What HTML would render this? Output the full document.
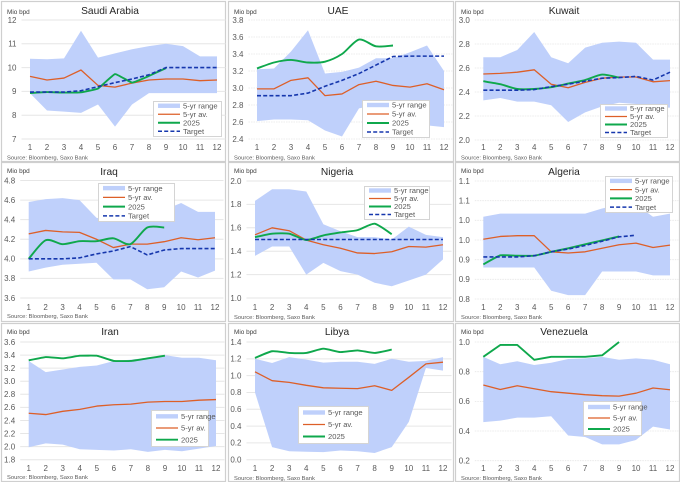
<!DOCTYPE html>
<html lang="en">
<head>
<meta charset="utf-8">
<title>OPEC+ production by country</title>
<style>
html,body{margin:0;padding:0;background:#fff;width:680px;height:482px;overflow:hidden}
svg{display:block;font-family:"Liberation Sans",sans-serif}
</style>
</head>
<body>
<svg id="chart" width="680" height="482" viewBox="0 0 680 482" xmlns="http://www.w3.org/2000/svg"></svg>
<script>
const months = [1,2,3,4,5,6,7,8,9,10,11,12];

const saudiTicks = [7,8,9,10,11,12];
const saudiLabels = ["7","8","9","10","11","12"];
const saudiHigh = [10.37,10.35,10.39,11.55,10.42,10.6,10.77,10.9,11.0,10.9,10.47,10.47];
const saudiLow = [8.92,8.2,8.15,8.1,8.45,7.52,8.45,8.93,8.93,8.93,8.93,8.93];
const saudiAvg = [9.63,9.48,9.56,9.9,9.25,9.18,9.35,9.48,9.52,9.52,9.45,9.48];
const saudi2025 = [8.93,8.97,8.95,8.96,9.12,9.73,9.37,9.65,9.98];
const saudiTarget = [8.97,8.97,8.97,9.03,9.2,9.37,9.52,9.7,10,10,10,10];

const uaeTicks = [2.4,2.6,2.8,3.0,3.2,3.4,3.6,3.8];
const uaeLabels = ["2.4","2.6","2.8","3.0","3.2","3.4","3.6","3.8"];
const uaeHigh = [3.22,3.23,3.43,3.68,3.17,3.19,3.24,3.35,3.35,3.42,3.5,3.2];
const uaeLow = [2.61,2.63,2.63,2.62,2.5,2.43,2.76,2.8,2.8,2.6,2.56,2.54];
const uaeAvg = [2.99,2.99,3.09,3.12,2.91,2.93,3.04,3.08,3.03,3.01,3.05,2.98];
const uae2025 = [3.23,3.3,3.33,3.3,3.31,3.4,3.57,3.49,3.5];
const uaeTarget = [2.91,2.91,2.91,2.94,3.02,3.09,3.17,3.27,3.37,3.375,3.375,3.375];

const kuwaitTicks = [2.0,2.2,2.4,2.6,2.8,3.0];
const kuwaitLabels = ["2.0","2.2","2.4","2.6","2.8","3.0"];
const kuwaitHigh = [2.69,2.69,2.75,2.9,2.69,2.64,2.77,2.81,2.82,2.81,2.67,2.67];
const kuwaitLow = [2.33,2.35,2.32,2.32,2.29,2.15,2.23,2.28,2.31,2.3,2.27,2.27];
const kuwaitAvg = [2.55,2.555,2.565,2.585,2.465,2.435,2.48,2.515,2.525,2.525,2.485,2.495];
const kuwait2025 = [2.49,2.465,2.425,2.425,2.44,2.47,2.5,2.545,2.52];
const kuwaitTarget = [2.415,2.415,2.415,2.42,2.445,2.465,2.49,2.515,2.52,2.53,2.5,2.565];

const iraqTicks = [3.6,3.8,4.0,4.2,4.4,4.6,4.8];
const iraqLabels = ["3.6","3.8","4.0","4.2","4.4","4.6","4.8"];
const iraqHigh = [4.58,4.61,4.62,4.6,4.42,4.38,4.4,4.45,4.5,4.57,4.48,4.48];
const iraqLow = [3.87,3.91,3.94,3.95,3.96,3.79,3.79,3.69,3.71,3.87,3.81,3.88];
const iraqAvg = [4.255,4.29,4.275,4.27,4.2,4.115,4.15,4.15,4.175,4.215,4.195,4.215];
const iraq2025 = [4.0,4.19,4.15,4.18,4.18,4.21,4.15,4.32,4.32];
const iraqTarget = [4,4,4,4.01,4.05,4.08,4.125,4.04,4.09,4.105,4.105,4.105];

const nigeriaTicks = [1.0,1.2,1.4,1.6,1.8,2.0];
const nigeriaLabels = ["1.0","1.2","1.4","1.6","1.8","2.0"];
const nigeriaHigh = [1.83,1.93,1.93,1.91,1.63,1.57,1.52,1.52,1.5,1.61,1.54,1.52];
const nigeriaLow = [1.36,1.44,1.44,1.2,1.3,1.23,1.2,1.13,1.1,1.15,1.2,1.33];
const nigeriaAvg = [1.54,1.6,1.575,1.495,1.455,1.425,1.385,1.38,1.395,1.44,1.435,1.455];
const nigeria2025 = [1.52,1.55,1.55,1.495,1.535,1.56,1.58,1.635,1.545];
const nigeriaTarget = [1.5,1.5,1.5,1.5,1.5,1.5,1.5,1.5,1.5,1.5,1.5,1.5];

const algeriaTicks = [0.8,0.85,0.9,0.95,1.0,1.05,1.1];
const algeriaLabels = ["0.8","0.9","0.9","1.0","1.0","1.1","1.1"];
const algeriaHigh = [1.009,1.017,1.017,1.017,1.017,1.017,1.017,1.03,1.04,1.04,1.009,1.017];
const algeriaLow = [0.88,0.88,0.88,0.88,0.821,0.81,0.81,0.87,0.87,0.87,0.86,0.86];
const algeriaAvg = [0.952,0.959,0.961,0.961,0.92,0.917,0.92,0.929,0.938,0.942,0.931,0.937];
const algeria2025 = [0.888,0.911,0.91,0.91,0.92,0.929,0.939,0.949,0.959];
const algeriaTarget = [0.907,0.907,0.907,0.91,0.92,0.927,0.936,0.947,0.958,0.962];

const iranTicks = [1.8,2.0,2.2,2.4,2.6,2.8,3.0,3.2,3.4,3.6];
const iranLabels = ["1.8","2.0","2.2","2.4","2.6","2.8","3.0","3.2","3.4","3.6"];
const iranHigh = [3.31,3.14,3.18,3.22,3.24,3.31,3.33,3.36,3.4,3.36,3.36,3.32];
const iranLow = [1.99,2.05,2.03,1.96,1.95,1.94,1.96,1.92,1.95,1.93,1.97,2.01];
const iranAvg = [2.51,2.49,2.54,2.57,2.62,2.64,2.65,2.68,2.69,2.69,2.71,2.72];
const iran2025 = [3.32,3.37,3.35,3.39,3.39,3.31,3.31,3.35,3.39];

const libyaTicks = [0,0.2,0.4,0.6,0.8,1.0,1.2,1.4];
const libyaLabels = ["0.0","0.2","0.4","0.6","0.8","1.0","1.2","1.4"];
const libyaHigh = [1.2,1.15,1.22,1.19,1.155,1.165,1.165,1.14,1.2,1.165,1.175,1.22];
const libyaLow = [0.8,0.15,0.1,0.095,0.09,0.11,0.1,0.08,0.15,0.45,1.09,1.06];
const libyaAvg = [1.045,0.94,0.92,0.885,0.855,0.85,0.845,0.88,0.825,0.98,1.14,1.16];
const libya2025 = [1.21,1.29,1.27,1.27,1.32,1.28,1.3,1.27,1.31];

const venezuelaTicks = [0.2,0.4,0.6,0.8,1.0];
const venezuelaLabels = ["0.2","0.4","0.6","0.8","1.0"];
const venezuelaHigh = [0.9,0.85,0.87,0.845,0.86,0.885,0.89,0.9,0.88,0.89,0.88,0.85];
const venezuelaLow = [0.46,0.47,0.49,0.49,0.5,0.37,0.36,0.31,0.31,0.34,0.43,0.41];
const venezuelaAvg = [0.71,0.68,0.705,0.685,0.665,0.655,0.645,0.638,0.635,0.655,0.69,0.678];
const venezuela2025 = [0.9,0.98,0.98,0.88,0.9,0.9,0.9,0.91,1.0];

const legendNames = ["5-yr range","5-yr av.","2025","Target"];

const COLORS = {range:"#bfd0fb", avg:"#dd5f28", y25:"#0fa84c", target:"#1637ad", grid:"#e6e6e6", text:"#595959", border:"#cfcfcf"};

const panels = [
  {key:"saudi-arabia", title:"Saudi Arabia", smooth:0.05, box:[1,1,224,160], x1:30, x12:217, yTop:20, yBot:139, tx:110, tb:14, mx:7, mb:14, sb:159.5, xb:150, dotted:false, ticks:saudiTicks, labels:saudiLabels, high:saudiHigh, low:saudiLow, avg:saudiAvg, cur:saudi2025, target:saudiTarget, leg:[153,101,68,35]},
  {key:"uae", title:"UAE", smooth:0.14, box:[228,1,225,160], x1:257, x12:444, yTop:20, yBot:139, tx:338, tb:14, mx:234, mb:14, sb:159.5, xb:150, dotted:true, ticks:uaeTicks, labels:uaeLabels, high:uaeHigh, low:uaeLow, avg:uaeAvg, cur:uae2025, target:uaeTarget, leg:[362,100,67,37]},
  {key:"kuwait", title:"Kuwait", smooth:0.12, box:[455,1,224,160], x1:483.3, x12:670, yTop:20, yBot:140, tx:564, tb:14, mx:461, mb:14, sb:159.5, xb:150, dotted:true, ticks:kuwaitTicks, labels:kuwaitLabels, high:kuwaitHigh, low:kuwaitLow, avg:kuwaitAvg, cur:kuwait2025, target:kuwaitTarget, leg:[600,104,67,33]},
  {key:"iraq", title:"Iraq", smooth:0.14, box:[1,162,224,159], x1:28.7, x12:215, yTop:180.5, yBot:298, tx:109, tb:175, mx:7, mb:173, sb:318, xb:310, dotted:false, ticks:iraqTicks, labels:iraqLabels, high:iraqHigh, low:iraqLow, avg:iraqAvg, cur:iraq2025, target:iraqTarget, leg:[98,183,76,38]},
  {key:"nigeria", title:"Nigeria", smooth:0.1, box:[228,162,225,159], x1:255, x12:443, yTop:181, yBot:298, tx:337, tb:175, mx:234, mb:173, sb:319, xb:310, dotted:false, ticks:nigeriaTicks, labels:nigeriaLabels, high:nigeriaHigh, low:nigeriaLow, avg:nigeriaAvg, cur:nigeria2025, target:nigeriaTarget, leg:[364,186,65,33]},
  {key:"algeria", title:"Algeria", smooth:0.06, box:[455,162,224,159], x1:483.3, x12:670, yTop:181, yBot:299, tx:564, tb:175, mx:461, mb:173, sb:319, xb:310, dotted:true, ticks:algeriaTicks, labels:algeriaLabels, high:algeriaHigh, low:algeriaLow, avg:algeriaAvg, cur:algeria2025, target:algeriaTarget, leg:[605,176,67,36]},
  {key:"iran", title:"Iran", smooth:0.04, box:[1,323,224,158], x1:28.7, x12:216, yTop:342, yBot:459.7, tx:110, tb:335, mx:7, mb:334, sb:479, xb:471, dotted:false, ticks:iranTicks, labels:iranLabels, high:iranHigh, low:iranLow, avg:iranAvg, cur:iran2025, target:null, leg:[151,410,57,36]},
  {key:"libya", title:"Libya", smooth:0.1, box:[228,323,225,158], x1:255, x12:443, yTop:342, yBot:459.7, tx:337, tb:335, mx:234, mb:334, sb:480, xb:471, dotted:false, ticks:libyaTicks, labels:libyaLabels, high:libyaHigh, low:libyaLow, avg:libyaAvg, cur:libya2025, target:null, leg:[298,406,70,37]},
  {key:"venezuela", title:"Venezuela", smooth:0, box:[455,323,224,158], x1:483.3, x12:670, yTop:342, yBot:460.7, tx:564, tb:335, mx:461, mb:334, sb:480, xb:471, dotted:true, ticks:venezuelaTicks, labels:venezuelaLabels, high:venezuelaHigh, low:venezuelaLow, avg:venezuelaAvg, cur:venezuela2025, target:null, leg:[583,401,58,34]}
];

const NS = "http://www.w3.org/2000/svg";
const root = document.getElementById("chart");

function make(tag, parent, attrs, content) {
  const el = document.createElementNS(NS, tag);
  for (const k in attrs) el.setAttribute(k, attrs[k]);
  if (content !== undefined) el.textContent = content;
  parent.appendChild(el);
  return el;
}

function linePath(pts) {
  return pts.map((p, i) => (i ? "L" : "M") + p[0].toFixed(2) + " " + p[1].toFixed(2)).join(" ");
}

function smoothPath(pts, k) {
  let d = "M" + pts[0][0].toFixed(2) + " " + pts[0][1].toFixed(2);
  for (let i = 0; i < pts.length - 1; i++) {
    const p0 = pts[Math.max(i - 1, 0)], p1 = pts[i], p2 = pts[i + 1], p3 = pts[Math.min(i + 2, pts.length - 1)];
    d += " C" + (p1[0] + (p2[0] - p0[0]) * k).toFixed(2) + " " + (p1[1] + (p2[1] - p0[1]) * k).toFixed(2) +
         " " + (p2[0] - (p3[0] - p1[0]) * k).toFixed(2) + " " + (p2[1] - (p3[1] - p1[1]) * k).toFixed(2) +
         " " + p2[0].toFixed(2) + " " + p2[1].toFixed(2);
  }
  return d;
}

panels.forEach(function (p) {
  const yMin = p.ticks[0], yMax = p.ticks[p.ticks.length - 1];
  const xScale = m => p.x1 + (m - 1) * (p.x12 - p.x1) / 11;
  const yScale = v => p.yBot - (v - yMin) * (p.yBot - p.yTop) / (yMax - yMin);
  const toPts = arr => arr.map((v, i) => [xScale(months[i]), yScale(v)]);
  const half = (p.x12 - p.x1) / 22;

  const g = make("g", root, {});
  
  

  const frame = make("rect", g, {x:p.box[0] + 0.5, y:p.box[1] + 0.5, width:p.box[2], height:p.box[3], fill:"#fff", stroke:COLORS.border, "stroke-width":1.2});
  
  

  const title = make("text", g, {x:p.tx, y:p.tb, "text-anchor":"middle", "font-size":10.2, fill:"#262626"}, p.title);
  
  

  const unit = make("text", g, {x:p.mx, y:p.mb, "font-size":6.4, fill:"#404040"}, "Mio bpd");
  
  

  const source = make("text", g, {x:p.mx, y:p.sb, "font-size":5.8, fill:"#595959"}, "Source: Bloomberg, Saxo Bank");
  
  

  p.ticks.forEach(function (t, i) {
    const yy = yScale(t);
    const gl = make("line", g, {x1:p.x1 - half, x2:p.x12 + half, y1:yy, y2:yy, stroke:COLORS.grid, "stroke-width":p.dotted ? 0.8 : 1});
    if (p.dotted) gl.setAttribute("stroke-dasharray", "1.5 1");
    
    
    const tl = make("text", g, {x:p.x1 - half - 5, y:yy + 2.8, "text-anchor":"end", "font-size":8, fill:COLORS.text}, p.labels[i]);
    
    
  });

  months.forEach(function (m) {
    const tl = make("text", g, {x:xScale(m), y:p.xb, "text-anchor":"middle", "font-size":8, fill:COLORS.text}, String(m));
    
    
  });

  const hi = toPts(p.high), lo = toPts(p.low).reverse();
  const area = make("polygon", g, {points:hi.concat(lo).map(q => q[0].toFixed(2) + "," + q[1].toFixed(2)).join(" "), fill:COLORS.range});
  
  

  const avg = make("path", g, {d:linePath(toPts(p.avg)), fill:"none", stroke:COLORS.avg, "stroke-width":1.3, "stroke-linejoin":"round"});
  
  

  const cur = make("path", g, {d:smoothPath(toPts(p.cur), p.smooth), fill:"none", stroke:COLORS.y25, "stroke-width":1.9, "stroke-linejoin":"round"});
  
  

  if (p.target) {
    const tg = make("path", g, {d:linePath(toPts(p.target)), fill:"none", stroke:COLORS.target, "stroke-width":1.6, "stroke-dasharray":"4 2.2"});
    
    
  }

  const lg = make("g", g, {});
  
  
  const L = p.leg;
  const lbg = make("rect", lg, {x:L[0] + 0.5, y:L[1] + 0.5, width:L[2], height:L[3], fill:"#fff", stroke:"#d4d4d4", "stroke-width":1});
  
  
  const n = p.target ? 4 : 3;
  const rowH = (L[3] - 1) / n;
  const swW = 22, tx = L[0] + 30;
  for (let i = 0; i < n; i++) {
    const cy = L[1] + 0.5 + rowH * (i + 0.5);
    const sx = L[0] + 5;
    let sw;
    if (i === 0) {
      sw = make("rect", lg, {x:sx, y:cy - 2.2, width:swW, height:4.4, fill:COLORS.range});
    } else if (i === 1) {
      sw = make("line", lg, {x1:sx, x2:sx + swW, y1:cy, y2:cy, stroke:COLORS.avg, "stroke-width":1.3});
    } else if (i === 2) {
      sw = make("line", lg, {x1:sx, x2:sx + swW, y1:cy, y2:cy, stroke:COLORS.y25, "stroke-width":1.9});
    } else {
      sw = make("line", lg, {x1:sx, x2:sx + swW, y1:cy, y2:cy, stroke:COLORS.target, "stroke-width":1.6, "stroke-dasharray":"4 2.2"});
    }
    
    
    const lt = make("text", lg, {x:tx, y:cy + 2.7, "font-size":7.6, fill:COLORS.text}, legendNames[i]);
    
    
  }
});
</script>
</body>
</html>
